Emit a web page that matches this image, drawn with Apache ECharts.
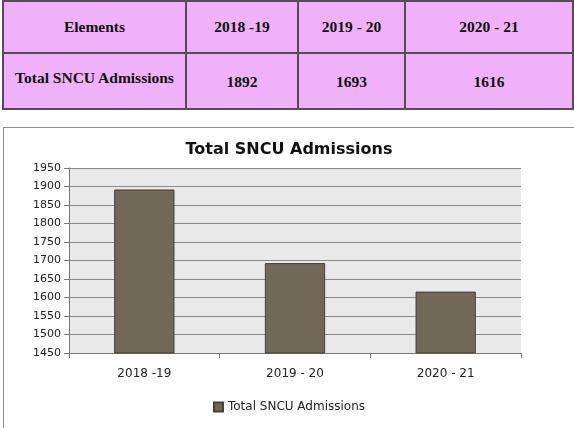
<!DOCTYPE html>
<html>
<head>
<meta charset="utf-8">
<script src="https://cdn.jsdelivr.net/npm/echarts@6/dist/echarts.min.js"></script>
<style>
  body { margin: 0; background: #fff; width: 574px; height: 428px; overflow: hidden; position: relative; }
  #tbl { position: absolute; left: 2px; top: 0px; border-collapse: collapse; background: #efb2f8; table-layout: fixed;
         font-family: 'Liberation Serif', 'DejaVu Serif', serif; font-weight: bold; font-size: 15.5px; color: #111; }
  #tbl td { border: 2px solid #5a4a58; text-align: center; padding: 0; vertical-align: middle; }
  #tbl tr.r1 td { height: 50px; }
  #tbl tr.r2 td { height: 54px; }
  #tbl span { position: relative; }
  #echarts { position: absolute; left: 3px; top: 127px; width: 570px; height: 310px; border: 1px solid #8c8c8c; }
</style>
</head>
<body>
<table id="tbl"></table>
<div id="echarts"></div>
<script>
var seriesName = 'Total SNCU Admissions';
var categories = ['2018 -19', '2019 - 20', '2020 - 21'];
var admissions = [1892, 1693, 1616];
var colWidths = [181, 110, 105, 166];

// table above the chart
var tbl = document.getElementById('tbl');
var head = '<tr class="r1"><td style="width:' + colWidths[0] + 'px">Elements</td>';
var body = '<tr class="r2"><td><span style="top:-3px">' + seriesName + '</span></td>';
for (var i = 0; i < categories.length; i++) {
    head += '<td style="width:' + colWidths[i + 1] + 'px">' + categories[i] + '</td>';
    body += '<td><span style="top:1px">' + admissions[i] + '</span></td>';
}
tbl.innerHTML = head + '</tr>' + body + '</tr>';

var myChart = echarts.init(document.getElementById('echarts'));
var option = {
    animation: false,
    title: {
        text: seriesName,
        left: 'center',
        top: 9,
        textStyle: { fontFamily: 'DejaVu Sans', fontSize: 16, fontWeight: 'bold', color: '#111' }
    },
    legend: {
        data: [seriesName],
        top: 268,
        left: 'center',
        icon: 'rect',
        itemWidth: 9,
        itemHeight: 9,
        itemGap: 4,
        textStyle: { fontFamily: 'DejaVu Sans', fontSize: 12, color: '#222' }
    },
    grid: {
        left: 65,
        top: 40,
        width: 452,
        height: 185,
        show: true,
        backgroundColor: '#e9e9e9',
        borderWidth: 0
    },
    xAxis: {
        type: 'category',
        data: categories,
        axisLine: { lineStyle: { color: '#777', width: 1 } },
        axisTick: { show: true, length: 5, lineStyle: { color: '#777' } },
        axisLabel: { margin: 15, fontFamily: 'DejaVu Sans', fontSize: 12, color: '#222' }
    },
    yAxis: {
        type: 'value',
        min: 1450,
        max: 1950,
        interval: 50,
        axisLine: { show: true, lineStyle: { color: '#777' } },
        axisTick: { show: true, length: 5, lineStyle: { color: '#777' } },
        axisLabel: {
            margin: 8, fontFamily: 'DejaVu Sans', fontSize: 11, color: '#222',
            formatter: function (v) { return String(v); }
        },
        splitLine: { lineStyle: { color: '#8a8a8a', width: 1 } }
    },
    series: [{
        name: seriesName,
        type: 'bar',
        data: admissions,
        barWidth: '40%',
        itemStyle: { color: '#726858', borderColor: '#463d33', borderWidth: 1 }
    }]
};
myChart.setOption(option);
</script>
</body>
</html>
